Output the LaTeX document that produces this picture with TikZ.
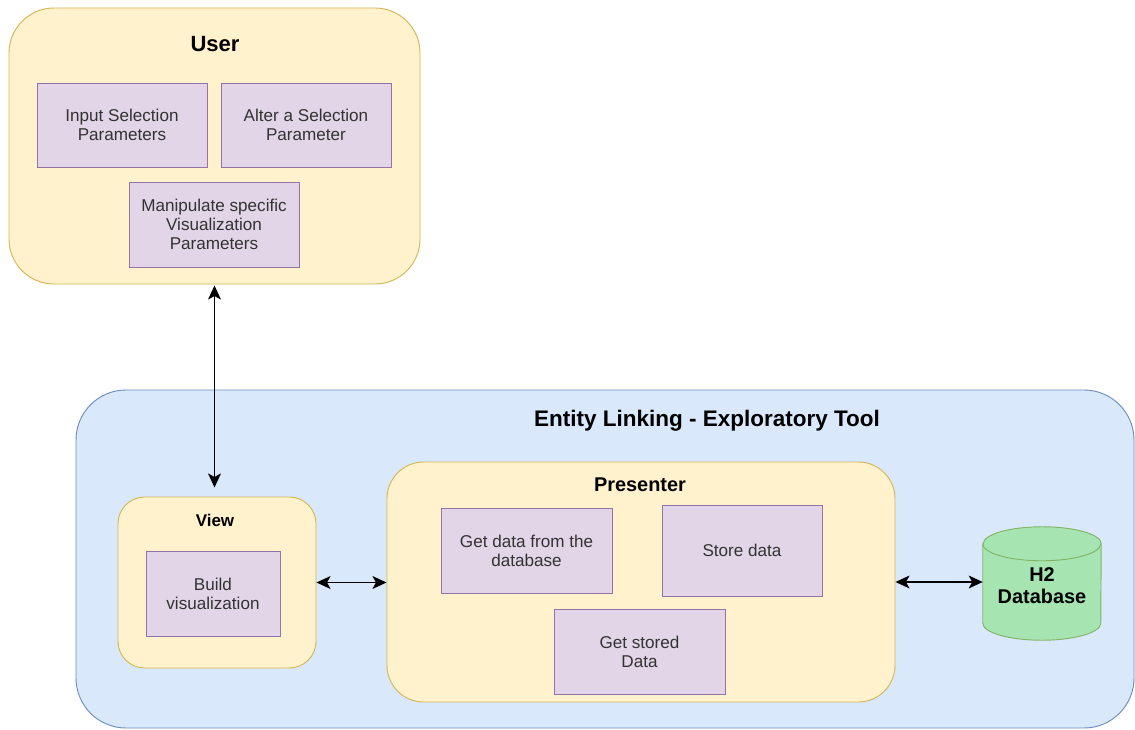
\documentclass[tikz,border=0pt]{standalone}
\usepackage{fontspec}
\setmainfont{Liberation Sans}
\usetikzlibrary{arrows.meta}
\definecolor{toolfill}{HTML}{DAE8FC}
\definecolor{tooldraw}{HTML}{6C8EBF}
\definecolor{layerfill}{HTML}{FFF2CC}
\definecolor{layerdraw}{HTML}{D6B656}
\definecolor{taskfill}{HTML}{E1D5E7}
\definecolor{taskdraw}{HTML}{9673A6}
\definecolor{dbfill}{HTML}{A6E5B2}
\definecolor{dbdraw}{HTML}{82B366}
\definecolor{labelgrey}{HTML}{333333}
\def\px{0.03cm}
\def\ry{17}
\def\rx{59}

\tikzset{
  boxsize/.style 2 args={minimum width=#1*\px, minimum height=#2*\px, inner sep=0pt},
  layer/.style={draw=layerdraw, fill=layerfill, line width=0.8pt, rounded corners=#1},
  task/.style={draw=taskdraw, fill=taskfill, line width=0.8pt, align=center, text=labelgrey,
    font=\fontsize{14.6}{16.2}\selectfont},
  heading/.style={font=\bfseries\fontsize{#1}{#1}\selectfont},
  link/.style={{Stealth[length=12pt,width=11pt,inset=3pt]}-{Stealth[length=12pt,width=11pt,inset=3pt]}, line width=1.3pt},
}

\begin{document}
\begin{tikzpicture}[x=\px, y=-\px]
\useasboundingbox (0,0) rectangle (1135,730);

% User layer
\node[layer=1.35cm, boxsize={411}{276}] (user) at (214.5,146) {};
\node[heading=18.8] (usertitle) at (215,44) {User};
\node[task, boxsize={170}{84}] (input) at (122,125) {Input Selection\\Parameters};
\node[task, boxsize={170}{84}] (alter) at (306,125) {Alter a Selection\\Parameter};
\node[task, boxsize={170}{85}] (manip) at (214,224.5) {Manipulate specific\\Visualization\\Parameters};

% Tool container
\node[draw=tooldraw, fill=toolfill, line width=0.8pt, rounded corners=1.5cm, boxsize={1058}{338}] (tool) at (605,559) {};
\node[heading=19.2] (tooltitle) at (707,421) {Entity Linking - Exploratory Tool};

% View
\node[layer=0.8cm, boxsize={198}{171}] (view) at (217,582.5) {};
\node[heading=14.5] (viewtitle) at (215,520) {View};
\node[task, boxsize={134}{85}] (build) at (213,593.5) {Build\\visualization};

% Presenter
\node[layer=1.1cm, boxsize={508}{240}] (presenter) at (641,582) {};
\node[heading=17] (presentertitle) at (640,485) {Presenter};
\node[task, boxsize={171}{85}] (getdb) at (526.5,550.5) {Get data from the\\database};
\node[task, boxsize={160}{91}] (store) at (742,550.5) {Store data};
\node[task, boxsize={171}{85}] (stored) at (639.5,651.5) {Get stored\\Data};

% Database cylinder
\node[boxsize={118}{113}] (db) at (1042,583.5) {};
\draw[draw=dbdraw, fill=dbfill, line width=0.8pt]
  ([yshift=-\ry*\px]db.north west) -- ([yshift=\ry*\px]db.south west)
  arc[start angle=180, end angle=360, x radius=\rx*\px, y radius=\ry*\px]
  -- ([yshift=-\ry*\px]db.north east)
  arc[start angle=0, end angle=180, x radius=\rx*\px, y radius=\ry*\px] -- cycle;
\draw[draw=dbdraw, line width=0.8pt] ([yshift=-\ry*\px]db.north west)
  arc[start angle=180, end angle=360, x radius=\rx*\px, y radius=\ry*\px];
\node[align=center, font=\bfseries\fontsize{17}{18.8}\selectfont] (dbname) at (1042,586) {H2\\Database};

% Connections
\draw[link, shorten <=1*\px, shorten >=9*\px] (user.south) -- (user.south |- view.north);
\draw[link] (view.east) -- (view.east -| presenter.west);
\draw[link] (presenter.east) -- (presenter.east -| db.west);

\end{tikzpicture}
\end{document}
